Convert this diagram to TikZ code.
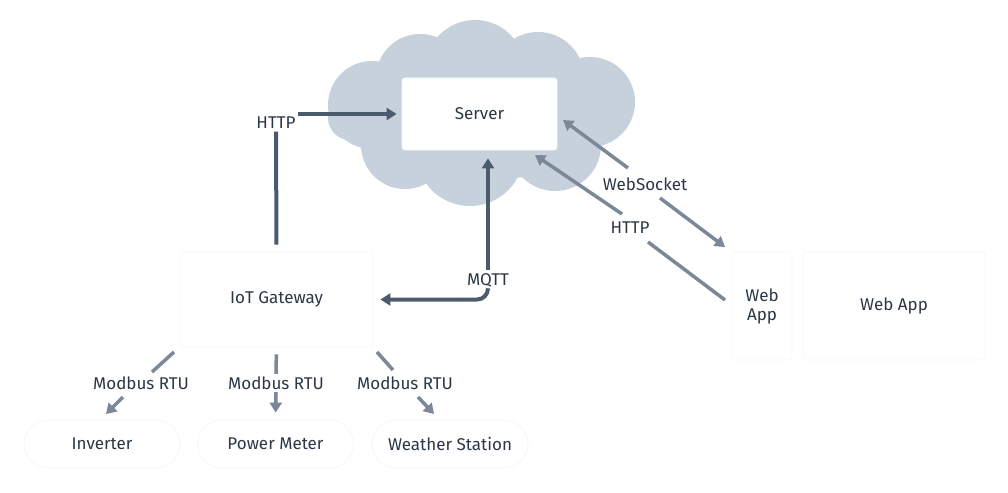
\documentclass[tikz,border=0pt]{standalone}
\usepackage{fontspec}
\setmainfont{Fira Sans}
\usetikzlibrary{arrows.meta}
\definecolor{cloudc}{HTML}{C6D1DB}
\definecolor{darkln}{HTML}{4C5B6B}
\definecolor{lightln}{HTML}{7A8898}
\definecolor{txt}{HTML}{2B3746}
\begin{document}
\begin{tikzpicture}[x=1pt,y=-1pt,
  font=\fontsize{17}{20}\selectfont, text=txt,
  box/.style={fill=white, draw=black!3, line width=0.8pt, rounded corners=3pt, inner sep=0pt},
  pill/.style={fill=white, draw=black!3, line width=0.8pt, rounded corners=24pt, inner sep=0pt,
    minimum width=156pt, minimum height=48pt},
  lbl/.style={fill=white, inner sep=2.5pt},
  dk/.style={draw=darkln, line width=4pt},
  lt/.style={draw=lightln, line width=3.5pt},
  tip/.style={-{Triangle[length=10pt,width=12pt]}},
  tipa/.style={{Triangle[length=10pt,width=12pt]}-}
]
\useasboundingbox[fill=white] (0,0) rectangle (1008,492);

% cloud
\begin{scope}[fill=cloudc]
  \fill (372,105) circle (44);
  \fill (420,78) circle (44);
  \fill (475,70) circle (50);
  \fill (538,78) circle (46);
  \fill (590,102) circle (45);
  \fill (470,152) circle (54);
  \fill (405,145) circle (44);
  \fill (555,145) circle (46);
  \fill (350,118) circle (22);
  \fill (482,120) ellipse (130 and 60);
\end{scope}

% nodes
\node[box, minimum width=155pt, minimum height=72pt] (srv) at (479.5,114) {Server};
\node[box, minimum width=193pt, minimum height=95pt] (gw) at (276.5,299.5) {IoT Gateway};
\node[box, minimum width=60pt, minimum height=108pt, align=center] (wa1) at (762,306) {Web\\[-1pt]App};
\node[box, minimum width=182pt, minimum height=108pt] (wa2) at (894,306) {Web App};
\node[pill] (inv) at (102,444) {Inverter};
\node[pill] (pm) at (275.5,444) {Power Meter};
\node[pill] (wst) at (450,444) {Weather Station};

% labels
\node[lbl] (httpL) at (276,123) {HTTP};
\node[lbl] (mqtt) at (488,280) {MQTT};
\node[lbl] (wsk) at (645,184) {WebSocket};
\node[lbl] (httpR) at (630,228) {HTTP};
\node[lbl] (mb1) at (141,383) {Modbus RTU};
\node[lbl] (mb2) at (276,383) {Modbus RTU};
\node[lbl] (mb3) at (405,383) {Modbus RTU};

% gateway to server over HTTP
\draw[dk, shorten <=7pt] (gw.north) -- (httpL.south);
\draw[dk, tip, shorten >=5pt] (httpL.east |- srv.west) -- (srv.west);

% MQTT link between server and gateway
\draw[dk, tip, shorten >=8pt] (mqtt.north) -- (mqtt.north |- srv.south);
\draw[dk, tip, rounded corners=11pt, shorten >=7pt] (mqtt.south) |- (gw.east);

% browser links
\coordinate (wsA) at (563,120);
\coordinate (wsB) at (628,168);
\coordinate (wsC) at (660,198);
\coordinate (wsD) at (725,247);
\draw[lt, tipa] (wsA) -- (wsB);
\draw[lt, tip] (wsC) -- (wsD);
\coordinate (htA) at (535,155);
\coordinate (htB) at (622,214);
\coordinate (htC) at (648,242);
\coordinate (htD) at (725,300);
\draw[lt, tipa] (htA) -- (htB);
\draw[lt] (htC) -- (htD);

% field bus links
\coordinate (m1a) at (174,352);
\coordinate (m1b) at (152,372);
\coordinate (m1c) at (123,397);
\coordinate (m1d) at (106,414);
\draw[lt] (m1a) -- (m1b);
\draw[lt, tip] (m1c) -- (m1d);
\draw[lt, shorten <=7pt] (gw.south) -- (mb2.north);
\draw[lt, tip, shorten >=7pt] (mb2.south) -- (pm.north);
\coordinate (m3a) at (377,352);
\coordinate (m3b) at (393,370);
\coordinate (m3c) at (418,397);
\coordinate (m3d) at (434,414);
\draw[lt] (m3a) -- (m3b);
\draw[lt, tip] (m3c) -- (m3d);
\end{tikzpicture}
\end{document}
